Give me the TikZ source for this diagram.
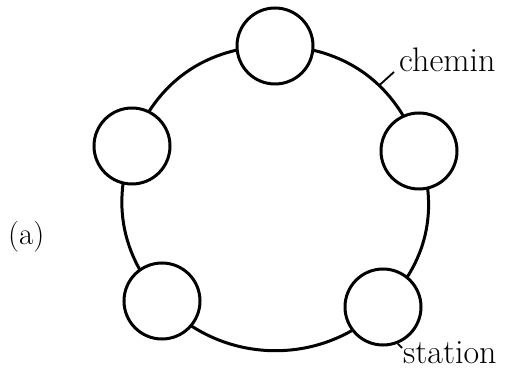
\documentclass[tikz,border=0pt]{standalone}
\usetikzlibrary{backgrounds,calc}
\begin{document}
\begin{tikzpicture}[x=1pt,y=-1pt,
  stn/.style={circle,draw,fill=white,line width=3pt,minimum size=76pt,inner sep=0pt},
  ring/.style={line width=3pt},
  lead/.style={line width=1.8pt},
  lbl/.style={font=\fontsize{34}{38}\selectfont,inner sep=0pt}]
\useasboundingbox (0,0) rectangle (514,371);
\node[stn] (s1) at (275,46) {};
\node[stn] (s2) at (419,151) {};
\node[stn] (s3) at (383,307) {};
\node[stn] (s4) at (162,301) {};
\node[stn] (s5) at (132,146) {};
\begin{pgfonlayer}{background}
\draw[ring] (s1.center) to[bend left=36] coordinate[pos=0.6] (cm) (s2.center);
\draw[ring] (s2.center) to[bend left=32] (s3.center);
\draw[ring] (s3.center) to[bend left=46] (s4.center);
\draw[ring] (s4.center) to[bend left=30] (s5.center);
\draw[ring] (s5.center) to[bend left=35] (s1.center);
\end{pgfonlayer}
\node[lbl,anchor=base west] (chemin) at (399,72) {chemin};
\node[lbl,anchor=base west] (station) at (403,363) {station};
\node[lbl,font=\fontsize{31}{36}\selectfont,anchor=base west] (a) at (8,245) {(a)};
\draw[lead] (cm) -- ($(chemin.base west)+(-5,0)$);
\draw[lead] (s3.-68) -- ($(station.base west)+(-1,-15)$);
\end{tikzpicture}
\end{document}
